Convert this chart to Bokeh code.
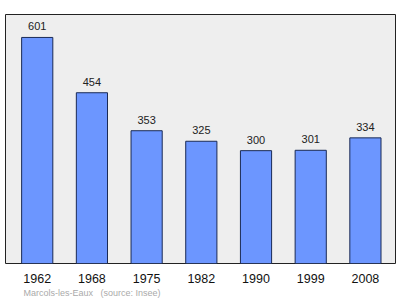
from bokeh.plotting import figure
from bokeh.models import ColumnDataSource, Range1d, FixedTicker, Title
from bokeh.embed import file_html
from bokeh.resources import INLINE

years = ["1962", "1968", "1975", "1982", "1990", "1999", "2008"]
population = [601, 454, 353, 325, 300, 301, 334]
source_text = "Marcols-les-Eaux\u00a0\u00a0\u00a0(source: Insee)"

idx = list(range(len(years)))
src = ColumnDataSource(dict(x=idx, top=population, lbl=[str(v) for v in population]))

p = figure(width=400, height=299, output_backend="svg", toolbar_location=None,
           x_range=Range1d(-0.58, 6.55), y_range=Range1d(0, 662),
           min_border_left=5, min_border_right=5, min_border_top=14, min_border_bottom=36)
p.background_fill_color = "#eeeeee"
p.border_fill_color = "white"
p.outline_line_color = "#222222"
p.outline_line_width = 1
p.grid.visible = False
p.yaxis.visible = False

p.vbar(x="x", top="top", width=0.57, bottom=0, source=src,
       fill_color="#6c96ff", line_color="#1a2a55", line_width=1)
p.text(x="x", y="top", text="lbl", source=src, text_align="center",
       text_baseline="bottom", y_offset=-7, text_font_size="11px",
       text_color="#222222", text_font={"value": "Liberation Sans"})

ax = p.xaxis[0]
ax.ticker = FixedTicker(ticks=idx)
ax.major_label_overrides = {i: y for i, y in enumerate(years)}
ax.axis_line_color = None
ax.major_tick_line_color = None
ax.minor_tick_line_color = None
ax.major_label_standoff = 4
ax.major_label_text_font_size = "12.5px"
ax.major_label_text_font = "Liberation Sans"
ax.major_label_text_color = "#111111"

p.add_layout(Title(text=source_text, align="left", offset=18, standoff=0,
                   text_font_size="9px", text_color="#aaaaaa", text_font="Liberation Sans",
                   text_font_style="normal"), "below")

open("out.html", "w").write(file_html(p, INLINE))
